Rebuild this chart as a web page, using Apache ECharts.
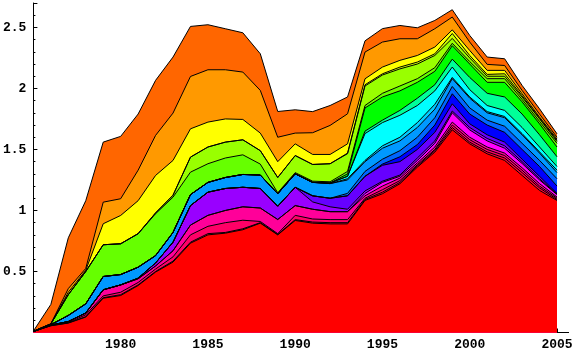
<!DOCTYPE html>
<html>
<head>
<meta charset="utf-8">
<script src="https://cdn.jsdelivr.net/npm/echarts@6/dist/echarts.min.js"></script>
<style>html,body{margin:0;padding:0;background:#fff}#c{width:580px;height:357px}</style>
</head>
<body>
<div id="c"></div>
<script>
// Years (x values)
const years = [1975,1976,1977,1978,1979,1980,1981,1982,1983,1984,1985,1986,1987,1988,1989,1990,
               1991,1992,1993,1994,1995,1996,1997,1998,1999,2000,2001,2002,2003,2004,2005];

// Upper boundary of each stacked band (cumulative), bottom -> top
const redTop      = [0.008,0.055,0.077,0.126,0.281,0.303,0.385,0.495,0.577,0.732,0.800,0.814,0.842,0.896,0.800,0.918,0.896,0.890,0.890,1.082,1.137,1.219,1.355,1.478,1.661,1.546,1.464,1.410,1.287,1.164,1.082];
const roseTop     = [0.008,0.056,0.079,0.130,0.285,0.310,0.390,0.500,0.585,0.740,0.810,0.820,0.850,0.900,0.803,0.925,0.905,0.900,0.900,1.090,1.150,1.230,1.365,1.490,1.680,1.560,1.480,1.430,1.310,1.185,1.090];
const crimsonTop  = [0.009,0.058,0.082,0.145,0.300,0.330,0.410,0.520,0.620,0.800,0.870,0.900,0.920,0.910,0.810,0.960,0.930,0.925,0.925,1.100,1.170,1.245,1.375,1.500,1.700,1.580,1.500,1.450,1.330,1.200,1.100];
const hotpinkTop  = [0.009,0.060,0.090,0.160,0.350,0.390,0.440,0.545,0.670,0.880,0.960,1.000,1.030,1.020,0.926,1.040,1.010,0.990,0.990,1.120,1.200,1.265,1.390,1.520,1.724,1.600,1.520,1.470,1.350,1.220,1.110];
const magentaTop  = [0.009,0.060,0.090,0.160,0.350,0.390,0.440,0.545,0.670,0.880,0.960,1.000,1.030,1.020,0.926,1.040,1.010,0.990,0.990,1.140,1.230,1.280,1.410,1.550,1.800,1.660,1.570,1.510,1.385,1.250,1.130];
const purpleTop   = [0.009,0.060,0.090,0.160,0.350,0.390,0.445,0.570,0.740,1.040,1.150,1.180,1.190,1.180,1.035,1.190,1.070,1.030,1.010,1.160,1.240,1.290,1.430,1.570,1.815,1.680,1.590,1.530,1.400,1.260,1.135];
const violetTop   = [0.009,0.060,0.090,0.160,0.350,0.390,0.445,0.570,0.740,1.040,1.150,1.180,1.190,1.180,1.035,1.190,1.120,1.100,1.120,1.280,1.370,1.400,1.500,1.640,1.874,1.710,1.620,1.560,1.420,1.280,1.140];
const blueTop     = [0.009,0.060,0.090,0.160,0.350,0.390,0.445,0.570,0.740,1.040,1.150,1.180,1.190,1.180,1.035,1.190,1.120,1.100,1.120,1.280,1.380,1.440,1.540,1.700,1.956,1.790,1.700,1.640,1.500,1.360,1.200];
const royalTop    = [0.009,0.060,0.090,0.160,0.350,0.390,0.445,0.570,0.740,1.040,1.150,1.180,1.190,1.180,1.035,1.190,1.120,1.100,1.140,1.320,1.420,1.490,1.600,1.760,2.016,1.840,1.740,1.690,1.550,1.410,1.260];
const azureTop    = [0.009,0.064,0.140,0.235,0.459,0.475,0.535,0.630,0.820,1.130,1.230,1.270,1.295,1.290,1.137,1.300,1.230,1.220,1.250,1.400,1.510,1.570,1.680,1.830,2.080,1.920,1.800,1.760,1.620,1.470,1.310];
const skyTop      = [0.009,0.064,0.140,0.235,0.459,0.475,0.535,0.630,0.820,1.130,1.230,1.270,1.295,1.290,1.137,1.300,1.230,1.220,1.260,1.410,1.530,1.600,1.720,1.870,2.090,1.930,1.810,1.770,1.630,1.480,1.330];
const cyanTop     = [0.009,0.064,0.140,0.235,0.459,0.475,0.535,0.630,0.820,1.130,1.230,1.270,1.295,1.290,1.137,1.300,1.230,1.225,1.280,1.630,1.720,1.780,1.860,1.980,2.175,1.990,1.860,1.820,1.680,1.520,1.360];
const springTop   = [0.009,0.064,0.140,0.235,0.459,0.475,0.535,0.630,0.820,1.130,1.230,1.270,1.295,1.290,1.137,1.300,1.230,1.225,1.280,1.650,1.740,1.820,1.920,2.030,2.240,2.090,1.960,1.930,1.790,1.620,1.440];
const greenTop    = [0.009,0.064,0.140,0.235,0.459,0.475,0.535,0.630,0.820,1.130,1.230,1.270,1.295,1.290,1.137,1.300,1.230,1.225,1.300,1.840,1.930,1.980,2.050,2.140,2.350,2.200,2.050,2.050,1.890,1.710,1.520];
const chartTop    = [0.010,0.070,0.310,0.500,0.719,0.727,0.809,0.973,1.109,1.314,1.383,1.430,1.456,1.380,1.145,1.310,1.240,1.235,1.320,1.860,1.960,2.020,2.080,2.170,2.370,2.220,2.080,2.080,1.910,1.730,1.550];
const limeTop     = [0.010,0.070,0.310,0.500,0.719,0.727,0.810,0.980,1.125,1.437,1.520,1.560,1.579,1.490,1.270,1.450,1.377,1.383,1.465,2.020,2.110,2.160,2.200,2.270,2.410,2.250,2.100,2.100,1.929,1.751,1.565];
const citronTop   = [0.010,0.070,0.310,0.500,0.719,0.727,0.810,0.980,1.125,1.437,1.520,1.560,1.579,1.490,1.270,1.450,1.377,1.383,1.470,2.030,2.120,2.175,2.216,2.284,2.450,2.270,2.115,2.120,1.940,1.755,1.575];
const yellowTop   = [0.010,0.070,0.330,0.510,0.891,0.959,1.080,1.287,1.410,1.669,1.724,1.750,1.746,1.634,1.400,1.546,1.459,1.459,1.546,2.079,2.175,2.230,2.270,2.339,2.480,2.311,2.148,2.148,1.956,1.765,1.585];
const orangeTop   = [0.010,0.072,0.360,0.525,1.068,1.096,1.330,1.615,1.798,2.098,2.153,2.153,2.134,1.984,1.600,1.634,1.637,1.697,1.792,2.298,2.380,2.407,2.407,2.489,2.585,2.380,2.197,2.188,1.984,1.790,1.600];
const darkOrangeTop = [0.012,0.230,0.776,1.080,1.560,1.607,1.790,2.066,2.257,2.508,2.522,2.489,2.456,2.284,1.811,1.825,1.810,1.860,1.930,2.390,2.490,2.516,2.497,2.557,2.645,2.434,2.257,2.243,2.025,1.833,1.628];

const yTicks = [0.5, 1, 1.5, 2, 2.5];
const xTickLabels = [1980, 1985, 1990, 1995, 2000, 2005];

// Bands from top to bottom (drawn first to last so lower bands paint over)
const bands = [
  ['darkOrange', '#ff6600', darkOrangeTop],
  ['orange',     '#ff9900', orangeTop],
  ['yellow',     '#ffff00', yellowTop],
  ['citron',     '#ccff00', citronTop],
  ['lime',       '#99ff00', limeTop],
  ['chartreuse', '#66ff00', chartTop],
  ['green',      '#00ff00', greenTop],
  ['spring',     '#00ff99', springTop],
  ['cyan',       '#00ffff', cyanTop],
  ['sky',        '#00ccff', skyTop],
  ['azure',      '#0099ff', azureTop],
  ['royal',      '#0066ff', royalTop],
  ['blue',       '#0000ff', blueTop],
  ['violet',     '#6600ff', violetTop],
  ['purple',     '#9900ff', purpleTop],
  ['magenta',    '#ff00ff', magentaTop],
  ['hotpink',    '#ff0099', hotpinkTop],
  ['crimson',    '#ff0066', crimsonTop],
  ['rose',       '#ff0033', roseTop],
  ['red',        '#ff0000', redTop]
];

const chart = echarts.init(document.getElementById('c'), null, {renderer: 'canvas'});
const labelFont = {fontFamily: 'Liberation Mono', fontSize: 13, fontWeight: 'bold', color: '#000'};

const option = {
  animation: false,
  backgroundColor: '#fff',
  grid: {left: 33, right: 23, top: 3, bottom: 24.5, containLabel: false},
  xAxis: {
    type: 'value', min: 1975, max: 2005, interval: 5,
    axisLine: {show: true, onZero: false, lineStyle: {color: '#000', width: 1}},
    axisTick: {show: true, inside: true, length: 4, lineStyle: {color: '#000'}},
    minorTick: {show: true, splitNumber: 5, length: 3, lineStyle: {color: '#000'}},
    splitLine: {show: false},
    axisLabel: Object.assign({
      margin: 6,
      formatter: v => (xTickLabels.indexOf(v) >= 0 ? String(v) : '')
    }, labelFont)
  },
  yAxis: {
    type: 'value', min: 0, max: 2.7, interval: 0.5,
    axisLine: {show: true, lineStyle: {color: '#000', width: 1}},
    axisTick: {show: true, inside: true, length: 4, lineStyle: {color: '#000'}},
    minorTick: {show: true, splitNumber: 5, length: 2, lineStyle: {color: '#000'}},
    splitLine: {show: false},
    axisLabel: Object.assign({
      margin: 7,
      formatter: v => (yTicks.indexOf(v) >= 0 ? String(v) : '')
    }, labelFont)
  },
  graphic: [{
    type: 'line', shape: {x1: 557, y1: 332.5, x2: 569, y2: 332.5},
    style: {stroke: '#000', lineWidth: 1}, z: 100
  }],
  series: bands.map(([name, color, tops]) => ({
    name, type: 'line', symbol: 'none', smooth: false,
    data: years.map((y, i) => [y, tops[i]]),
    lineStyle: {color: '#000', width: 1},
    areaStyle: {color: color, opacity: 1},
    emphasis: {disabled: true}
  }))
};
chart.setOption(option);
</script>
</body>
</html>
